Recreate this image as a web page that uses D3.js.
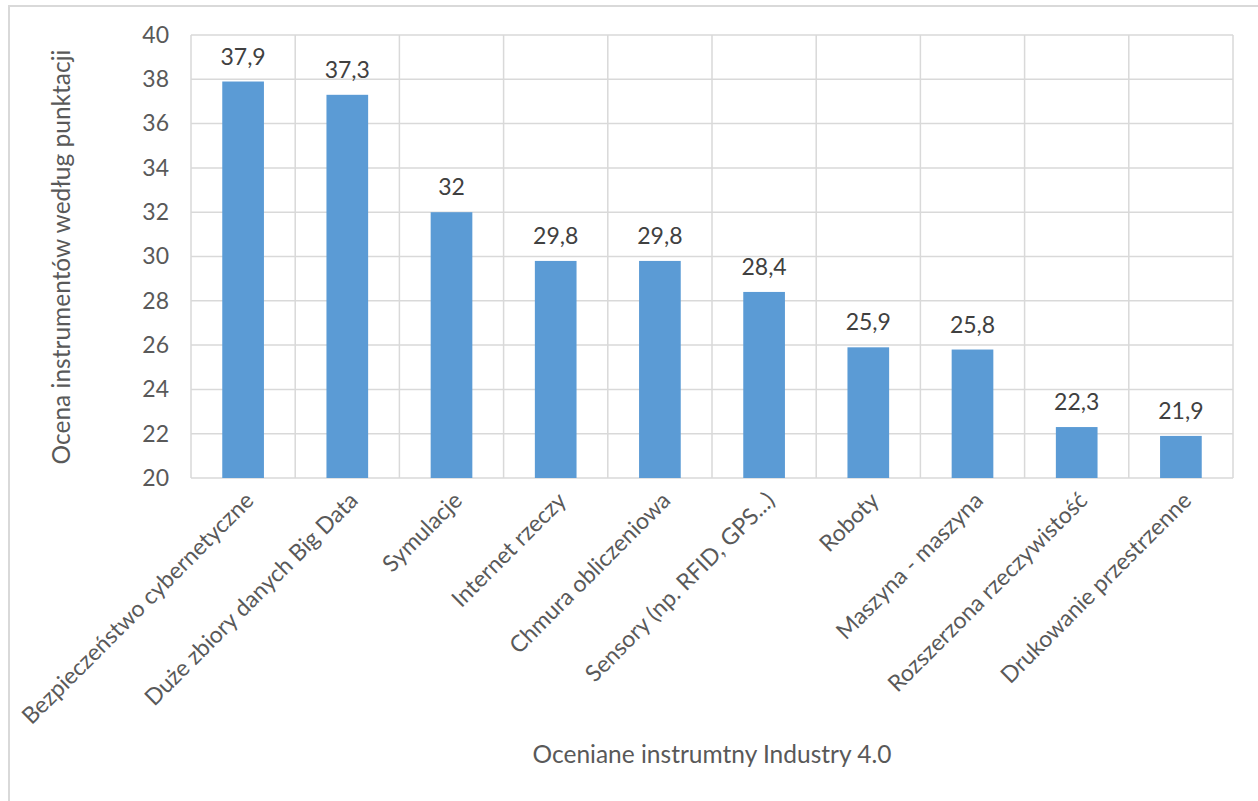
<!DOCTYPE html>
<html>
<head>
    <meta charset="utf-8">
    <title>Ocena instrumentów Industry 4.0</title>
    <script src="https://d3js.org/d3.v7.min.js"></script>
    <style>
        html, body {
            margin: 0;
            background: #fff;
            overflow: hidden;
        }
        text {
            font-family: Lato, "Open Sans", sans-serif;
        }
    </style>
</head>
<body>
    <div id="chart"></div>

    <script>
        // Data
        const categories = [
            "Bezpieczeństwo cybernetyczne",
            "Duże zbiory danych Big Data",
            "Symulacje",
            "Internet rzeczy",
            "Chmura obliczeniowa",
            "Sensory (np. RFID, GPS...)",
            "Roboty",
            "Maszyna - maszyna",
            "Rozszerzona rzeczywistość",
            "Drukowanie przestrzenne"
        ];
        const values = [37.9, 37.3, 32, 29.8, 29.8, 28.4, 25.9, 25.8, 22.3, 21.9];
        const yTicks = [20, 22, 24, 26, 28, 30, 32, 34, 36, 38, 40];
        const yTitle = "Ocena instrumentów według punktacji";
        const xTitle = "Oceniane instrumtny Industry 4.0";

        const W = 1258, H = 801;
        const margin = {top: 35, right: 25, bottom: 323, left: 191};
        const width = W - margin.left - margin.right;
        const height = H - margin.top - margin.bottom;
        const grid = "#d9d9d9";
        const fs = "23px";
        const titleFs = "24.5px";

        const svg = d3.select("#chart")
            .append("svg")
            .attr("width", W)
            .attr("height", H);

        // outer chart frame (only top and left visible)
        svg.append("path")
            .attr("d", `M9,${H} V6 H${W}`)
            .attr("fill", "none")
            .attr("stroke", grid)
            .attr("stroke-width", 2);

        const g = svg.append("g")
            .attr("transform", `translate(${margin.left},${margin.top})`);

        const x = d3.scaleBand()
            .domain(categories)
            .range([0, width])
            .padding(0);

        const y = d3.scaleLinear()
            .domain([20, 40])
            .range([height, 0]);

        // horizontal gridlines
        g.selectAll(".hgrid")
            .data(yTicks)
            .join("line")
            .attr("x1", 0)
            .attr("x2", width)
            .attr("y1", d => y(d))
            .attr("y2", d => y(d))
            .attr("stroke", grid)
            .attr("stroke-width", 1.5);

        // vertical gridlines at category boundaries
        g.selectAll(".vgrid")
            .data(categories.concat(["end"]))
            .join("line")
            .attr("x1", (d, i) => i * x.step())
            .attr("x2", (d, i) => i * x.step())
            .attr("y1", 0)
            .attr("y2", height)
            .attr("stroke", grid)
            .attr("stroke-width", 1.5);

        // y axis labels
        const yAxis = g.append("g")
            .call(d3.axisLeft(y).tickValues(yTicks).tickSize(0).tickPadding(22));
        yAxis.select(".domain").remove();
        yAxis.selectAll("text")
            .attr("fill", "#595959")
            .style("font-size", fs);

        // bars
        const barW = x.bandwidth() * 0.4;
        g.selectAll(".bar")
            .data(values)
            .join("rect")
            .attr("x", (d, i) => x(categories[i]) + (x.bandwidth() - barW) / 2)
            .attr("y", d => y(d))
            .attr("width", barW)
            .attr("height", d => height - y(d))
            .attr("fill", "#5b9bd5");

        // value labels
        g.selectAll(".val")
            .data(values)
            .join("text")
            .attr("x", (d, i) => x(categories[i]) + x.bandwidth() / 2)
            .attr("y", d => y(d) - 17)
            .attr("text-anchor", "middle")
            .attr("fill", "#404040")
            .style("font-size", fs)
            .text(d => String(d).replace(".", ","));

        // rotated category labels
        g.selectAll(".cat")
            .data(categories)
            .join("text")
            .attr("transform", d => `translate(${x(d) + x.bandwidth() / 2 + 12},${height + 24}) rotate(-45)`)
            .attr("text-anchor", "end")
            .attr("fill", "#595959")
            .style("font-size", fs)
            .text(d => d);

        // axis titles
        svg.append("text")
            .attr("transform", `translate(70,${margin.top + 222}) rotate(-90)`)
            .attr("text-anchor", "middle")
            .attr("fill", "#595959")
            .style("font-size", titleFs)
            .text(yTitle);

        svg.append("text")
            .attr("x", margin.left + width / 2)
            .attr("y", 763)
            .attr("text-anchor", "middle")
            .attr("fill", "#595959")
            .style("font-size", titleFs)
            .text(xTitle);
    </script>
</body>
</html>
